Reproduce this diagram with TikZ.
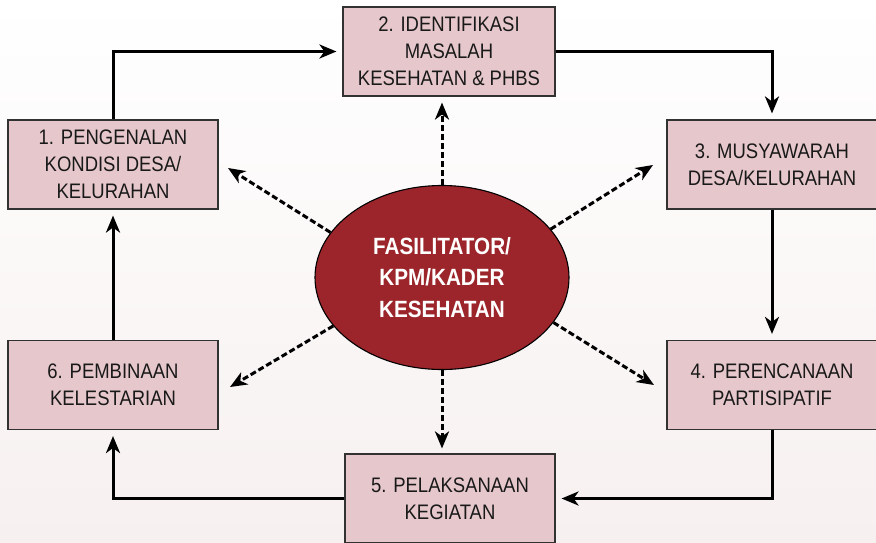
\documentclass[tikz,border=0pt]{standalone}
\usepackage{fontspec}
\setmainfont{Liberation Sans}[FakeStretch=0.88]
\usetikzlibrary{arrows.meta,shapes.geometric}
\definecolor{boxfill}{RGB}{230,200,204}
\definecolor{ellfill}{RGB}{155,37,42}
\definecolor{boxline}{RGB}{50,50,50}
\definecolor{bgbot}{RGB}{247,240,240}
\begin{document}
\begin{tikzpicture}[x=1pt,y=-1pt,
  stepbox/.style={draw=boxline,line width=1.1pt,fill=boxfill,minimum width=210pt,
    minimum height=89pt,inner sep=0pt,align=center,
    font=\fontsize{21}{27}\selectfont,text=black!90},
  flow/.style={line width=3pt,-{Stealth[length=17pt,width=14pt,inset=5pt]},shorten >=6pt},
  dflow/.style={line width=3pt,dash pattern=on 6pt off 3pt,
    -{Stealth[length=17pt,width=14pt,inset=5pt]}},
  center/.style={ellipse,draw=black,line width=1.1pt,fill=ellfill,minimum width=254pt,
    minimum height=184pt,inner sep=0pt,align=center,text=white,
    font=\fontsize{23.5}{31.5}\selectfont\bfseries}
]
\useasboundingbox (0,0) rectangle (876,542);
\shade[top color=white,bottom color=bgbot] (0,0) rectangle (876,542);
\clip (0,0) rectangle (876,542);

\node[stepbox] (b1) at (113,164.5) {1. PENGENALAN\\KONDISI DESA/\\KELURAHAN};
\node[stepbox,minimum width=212pt] (b2) at (449,51.5) {2. IDENTIFIKASI\\MASALAH\\KESEHATAN \& PHBS};
\node[stepbox] (b3) at (772,164.5) {3. MUSYAWARAH\\DESA/KELURAHAN};
\node[stepbox] (b4) at (772,385) {4. PERENCANAAN\\PARTISIPATIF};
\node[stepbox] (b5) at (450,498.5) {5. PELAKSANAAN\\KEGIATAN};
\node[stepbox] (b6) at (113,385) {6. PEMBINAAN\\KELESTARIAN};

\node[center] (c) at (442,277.5) {FASILITATOR/\\KPM/KADER\\KESEHATAN};

\coordinate (t1) at (228,168);
\coordinate (t3) at (653,165);
\coordinate (t4) at (654,385);
\coordinate (t6) at (230,387);

\draw[flow] (b1.north) |- (b2.west);
\draw[flow] (b2.east) -| (b3.north);
\draw[flow] (b3.south) -- (b4.north);
\draw[flow] (b4.south) |- (b5.east);
\draw[flow] (b5.west) -| (b6.south);
\draw[flow] (b6.north) -- (b1.south);

\draw[dflow,shorten >=6pt] (c.north) -- (c.north |- b2.south);
\draw[dflow,shorten >=5pt] (c.south) -- (c.south |- b5.north);
\draw[dflow] (c.158) -- (t1);
\draw[dflow] (c.24) -- (t3);
\draw[dflow] (c.204) -- (t6);
\draw[dflow] (c.338) -- (t4);
\end{tikzpicture}
\end{document}
